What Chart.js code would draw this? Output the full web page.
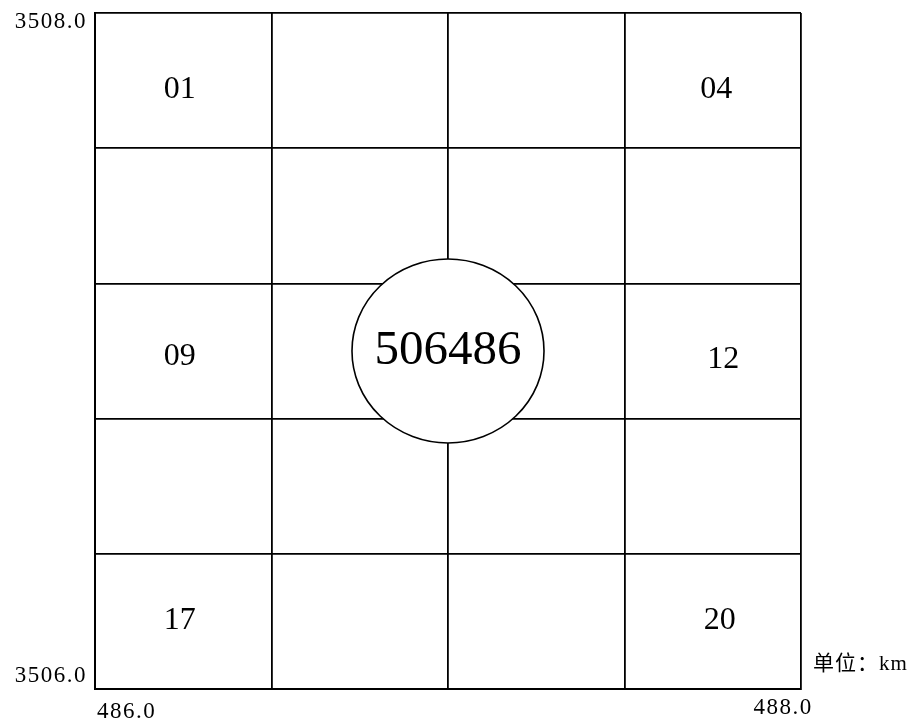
<!DOCTYPE html>
<html>
<head>
<meta charset="utf-8">
<script src="https://cdn.jsdelivr.net/npm/chart.js@4/dist/chart.umd.min.js"></script>
<style>
  html, body { margin: 0; padding: 0; background: #fff; }
</style>
</head>
<body>
<canvas id="c" width="914" height="720"></canvas>
<script>
// --- данные ---
const xGrid = [486.0, 486.5, 487.0, 487.5, 488.0];
const yGrid = [3506.0, 3506.4, 3506.8, 3507.2, 3507.6, 3508.0];
const cellNames = ['01', '04', '09', '12', '17', '20'];
const cellX = [486.24, 487.76, 486.24, 487.78, 486.24, 487.77];
const cellY = [3507.78, 3507.78, 3506.99, 3506.98, 3506.21, 3506.21];
const sheetName = '506486';
const sheetCenter = [487.0, 3507.0];
const sheetRadius = 0.272; // км
const xTickLabels = ['486.0', '488.0'];
const yTickLabels = ['3506.0', '3508.0'];
const unitText = '单位：km';

const SERIF = '"Liberation Serif", "Noto Sans CJK SC", serif';

// рисуем круг, подписи ячеек и углов
const mapPlugin = {
    id: 'mapPlugin',
    afterDatasetsDraw(chart) {
        const ctx = chart.ctx;
        const sx = chart.scales.x, sy = chart.scales.y;
        ctx.save();

        // круг листа
        const cx = sx.getPixelForValue(sheetCenter[0]);
        const cy = sy.getPixelForValue(sheetCenter[1]);
        const rx = Math.abs(sx.getPixelForValue(sheetCenter[0] + sheetRadius) - cx);
        const ry = Math.abs(sy.getPixelForValue(sheetCenter[1] + sheetRadius) - cy);
        ctx.beginPath();
        ctx.ellipse(cx, cy, rx, ry, 0, 0, Math.PI * 2);
        ctx.fillStyle = '#fff';
        ctx.fill();
        ctx.lineWidth = 1.6;
        ctx.strokeStyle = '#000';
        ctx.stroke();

        ctx.fillStyle = '#000';
        ctx.textBaseline = 'alphabetic';
        ctx.textAlign = 'center';
        ctx.font = '49px ' + SERIF;
        ctx.fillText(sheetName, cx, cy - 3 + 49 * 0.33);

        // номера ячеек
        ctx.font = '32px ' + SERIF;
        chart.getDatasetMeta(0).data.forEach((pt, i) => {
            ctx.fillText(cellNames[i], pt.x, pt.y + 32 * 0.33);
        });

        // подписи углов
        const left = sx.getPixelForValue(486), right = sx.getPixelForValue(488);
        const top = sy.getPixelForValue(3508), bottom = sy.getPixelForValue(3506);
        ctx.font = '23px ' + SERIF;
        ctx.letterSpacing = '1.5px';
        ctx.textAlign = 'right';
        ctx.fillText(yTickLabels[1], left - 8, top + 15);
        ctx.fillText(yTickLabels[0], left - 8, bottom - 7);
        ctx.textAlign = 'left';
        ctx.fillText(xTickLabels[0], left + 2, bottom + 29);
        ctx.textAlign = 'center';
        ctx.fillText(xTickLabels[1], right - 18, bottom + 25);

        ctx.letterSpacing = '1px';
        ctx.textAlign = 'left';
        ctx.font = '21px ' + SERIF;
        ctx.fillText(unitText, right + 12, bottom - 19);
        ctx.restore();
    }
};

const axisCommon = {
    type: 'linear',
    ticks: { display: false },
    grid: { color: '#000', lineWidth: 1.8, drawTicks: false },
    border: { display: true, color: '#000', width: 2 }
};

const ctx = document.getElementById('c').getContext('2d');
const chart = new Chart(ctx, {
    type: 'scatter',
    data: {
        datasets: [{
            data: cellX.map((x, i) => ({ x: x, y: cellY[i] })),
            pointRadius: 0,
            showLine: false
        }]
    },
    options: {
        responsive: false,
        animation: false,
        devicePixelRatio: 1,
        layout: { padding: { left: 95, top: 13, right: 113, bottom: 31 } },
        plugins: { legend: { display: false }, tooltip: { enabled: false } },
        scales: {
            x: Object.assign({}, axisCommon, {
                min: 486, max: 488,
                afterBuildTicks: s => { s.ticks = xGrid.map(v => ({ value: v })); },
                afterFit: s => { s.height = 0; }
            }),
            y: Object.assign({}, axisCommon, {
                min: 3506, max: 3508,
                afterBuildTicks: s => { s.ticks = yGrid.map(v => ({ value: v })); },
                afterFit: s => { s.width = 0; }
            })
        }
    },
    plugins: [mapPlugin]
});
</script>
</body>
</html>
